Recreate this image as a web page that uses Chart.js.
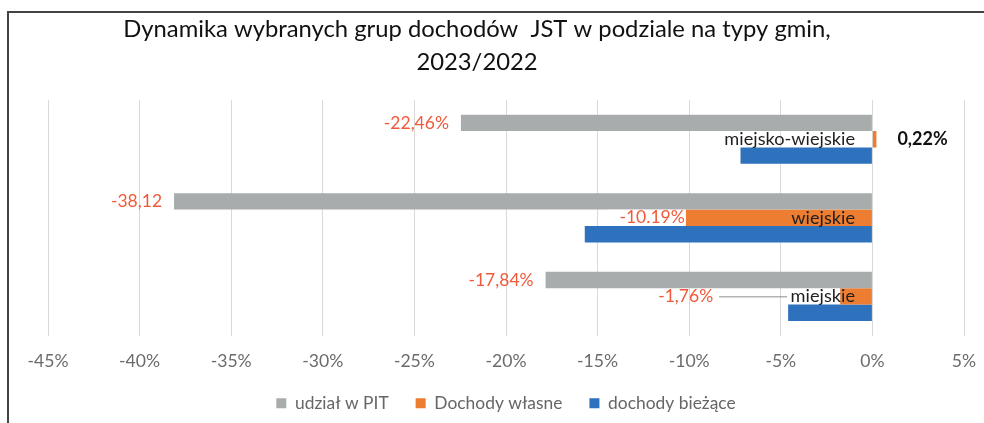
<!DOCTYPE html>
<html lang="pl">
<head>
<meta charset="utf-8">
<script src="https://cdn.jsdelivr.net/npm/chart.js@4.4.1/dist/chart.umd.min.js"></script>
<style>
  html, body { margin: 0; padding: 0; background: #fff; }
  #wrap { position: relative; width: 984px; height: 423px; overflow: hidden; }
  #frame { position: absolute; left: 7px; top: 11px; right: -10px; bottom: -10px;
           border-left: 2px solid #444; border-top: 2px solid #444; }
  #chart { position: absolute; left: 0; top: 0; }
</style>
</head>
<body>
<div id="wrap">
  <div id="frame"></div>
  <canvas id="chart" width="984" height="423"></canvas>
</div>
<script>
// data
const categories = ['miejsko-wiejskie', 'wiejskie', 'miejskie'];
const seriesNames = ['udział w PIT', 'Dochody własne', 'dochody bieżące'];
const udzialPit = [-22.46, -38.12, -17.84];
const dochodyWlasne = [0.22, -10.19, -1.76];
const dochodyBiezace = [-7.2, -15.7, -4.6];
const pitLabels = ['-22,46%', '-38,12', '-17,84%'];
const wlasneLabels = ['0,22%', '-10.19%', '-1,76%'];
const titleLines = ['Dynamika wybranych grup dochodów  JST w podziale na typy gmin,', '2023/2022'];
const xMin = -45, xMax = 5, xStep = 5;

const FONT = 'Lato';
const RED = '#F05A3A';

// two-line title, centred a bit left of the plot like the original
const titlePlugin = {
  id: 'titleLines',
  afterDraw(chart) {
    const ctx = chart.ctx;
    ctx.save();
    ctx.fillStyle = '#111';
    ctx.font = '23.8px ' + FONT;
    ctx.textAlign = 'center';
    ctx.textBaseline = 'alphabetic';
    ctx.fillText(titleLines[0], 477, 37);
    ctx.fillText(titleLines[1], 477, 70);
    ctx.restore();
  }
};

const valueLabels = {
  id: 'valueLabels',
  afterDatasetsDraw(chart) {
    const ctx = chart.ctx;
    ctx.save();
    ctx.textBaseline = 'middle';
    ctx.font = '17.5px ' + FONT;
    // udział w PIT: label left of the bar end
    chart.getDatasetMeta(0).data.forEach((bar, i) => {
      ctx.fillStyle = RED;
      ctx.textAlign = 'right';
      ctx.fillText(pitLabels[i], bar.x - 12, bar.y);
    });
    const own = chart.getDatasetMeta(1).data;
    // 0,22% to the right, bold black
    ctx.font = 'bold 18px ' + FONT;
    ctx.fillStyle = '#111';
    ctx.textAlign = 'left';
    ctx.fillText(wlasneLabels[0], own[0].x + 21, own[0].y);
    // -10.19% at bar end with white box
    ctx.font = '17.5px ' + FONT;
    const w1 = ctx.measureText(wlasneLabels[1]).width;
    ctx.fillStyle = '#fff';
    ctx.fillRect(own[1].x - w1 - 12, own[1].y - 8, w1 + 12, 16);
    ctx.fillStyle = RED;
    ctx.textAlign = 'right';
    ctx.fillText(wlasneLabels[1], own[1].x - 1, own[1].y);
    // -1,76% with leader line
    const lx = own[2].x - 127;
    ctx.fillText(wlasneLabels[2], lx, own[2].y);
    ctx.strokeStyle = '#8c8c8c';
    ctx.lineWidth = 1;
    ctx.beginPath();
    ctx.moveTo(lx + 6, own[2].y + 0.5);
    ctx.lineTo(own[2].x - 53, own[2].y + 0.5);
    ctx.stroke();
    ctx.restore();
  }
};

new Chart(document.getElementById('chart'), {
  type: 'bar',
  data: {
    labels: categories,
    datasets: [
      { label: seriesNames[0], data: udzialPit, backgroundColor: '#A9ACAD' },
      { label: seriesNames[1], data: dochodyWlasne, backgroundColor: '#ED7D31' },
      { label: seriesNames[2], data: dochodyBiezace, backgroundColor: '#2E72BE' }
    ]
  },
  options: {
    indexAxis: 'y',
    responsive: false,
    animation: false,
    layout: { padding: { left: 48, right: 20, top: 100, bottom: 1 } },
    datasets: { bar: { barPercentage: 1, categoryPercentage: 0.626 } },
    scales: {
      x: {
        min: xMin, max: xMax,
        afterFit: s => { s.height = 32; },
        ticks: { stepSize: xStep, callback: v => v + '%', color: '#6b6b6b', font: { family: FONT, size: 17.6 }, padding: 3, maxRotation: 0, autoSkip: false },
        grid: { color: '#d9d9d9', drawTicks: true, tickLength: 12.5, tickColor: 'rgba(0,0,0,0)' },
        border: { display: false }
      },
      y: {
        position: { x: -0.95 },
        grid: { display: false },
        border: { display: false },
        ticks: { z: 1, color: '#1f1f1f', font: { family: FONT, size: 18.2 }, padding: 0 }
      }
    },
    plugins: {
      legend: {
        position: 'bottom',
        labels: { boxWidth: 10, boxHeight: 10, padding: 27, color: '#666', font: { family: FONT, size: 17.4 } }
      },
      title: { display: false },
      tooltip: { enabled: false }
    }
  },
  plugins: [titlePlugin, valueLabels]
});
</script>
</body>
</html>
